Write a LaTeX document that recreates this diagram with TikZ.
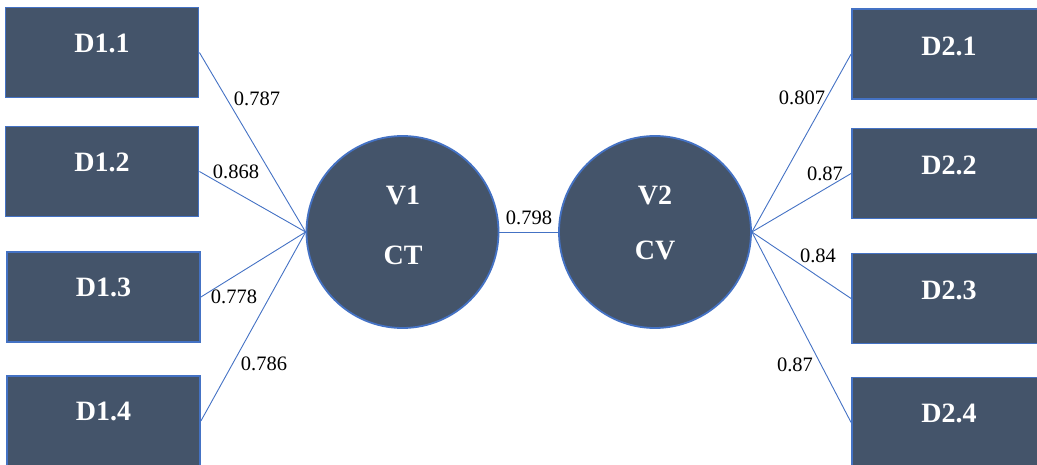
\documentclass[tikz,border=0pt]{standalone}
\usepackage{fontspec}
\setmainfont{Liberation Serif}
\definecolor{slate}{HTML}{44546A}
\definecolor{edgeblue}{HTML}{4472C4}
\begin{document}
\begin{tikzpicture}[x=1pt,y=-1pt,
  box/.style={draw=edgeblue,fill=slate,line width=1.8pt,minimum width=193pt,minimum height=90pt,inner sep=0pt},
  widebox/.style={box,minimum width=204pt},
  boxtext/.style={text=white,font=\fontsize{28}{30}\selectfont\bfseries,inner sep=0pt},
  latent/.style={circle,draw=edgeblue,fill=slate,line width=1.8pt,minimum size=192pt,inner sep=0pt},
  link/.style={draw=edgeblue,line width=0.9pt},
  weight/.style={font=\fontsize{20.5}{22}\selectfont,inner sep=0pt}]
\useasboundingbox (0,0) rectangle (1037,465);

% indicator boxes, first construct
\node[box] (d11) at (102,52.5) {};
\node[box] (d12) at (102,171.5) {};
\node[box] (d13) at (103.5,297) {};
\node[box] (d14) at (103.5,421) {};
\node[boxtext] at (102,43) {D1.1};
\node[boxtext] at (102,162) {D1.2};
\node[boxtext] at (103.5,287) {D1.3};
\node[boxtext] at (103.5,411) {D1.4};

% indicator boxes, second construct (running past the right edge)
\node[widebox] (d21) at (954,54) {};
\node[widebox] (d22) at (954,173.5) {};
\node[widebox] (d23) at (954,298.5) {};
\node[widebox] (d24) at (954,422.5) {};
\node[boxtext] at (949,46) {D2.1};
\node[boxtext] at (949,165) {D2.2};
\node[boxtext] at (949,290) {D2.3};
\node[boxtext] at (949,413) {D2.4};

% latent variables
\node[latent] (v1) at (402.5,232) {};
\node[latent] (v2) at (655,232) {};
\node[boxtext] at (403,195) {V1};
\node[boxtext] at (403,255) {CT};
\node[boxtext] at (655,195) {V2};
\node[boxtext] at (655,250) {CV};

% loadings
\draw[link] (d11.east) -- (v1.west);
\draw[link] (d12.east) -- (v1.west);
\draw[link] (d13.east) -- (v1.west);
\draw[link] (d14.east) -- (v1.west);
\draw[link] (v2.east) -- (d21.west);
\draw[link] (v2.east) -- (d22.west);
\draw[link] (v2.east) -- (d23.west);
\draw[link] (v2.east) -- (d24.west);
\draw[link] (v1.east) -- (v2.west);

% loading values
\node[weight] at (257,99) {0.787};
\node[weight] at (236,172) {0.868};
\node[weight] at (234,297) {0.778};
\node[weight] at (264,364) {0.786};
\node[weight] at (529,218) {0.798};
\node[weight] at (802,98) {0.807};
\node[weight] at (825,174) {0.87};
\node[weight] at (818,256) {0.84};
\node[weight] at (795,365) {0.87};
\end{tikzpicture}
\end{document}
